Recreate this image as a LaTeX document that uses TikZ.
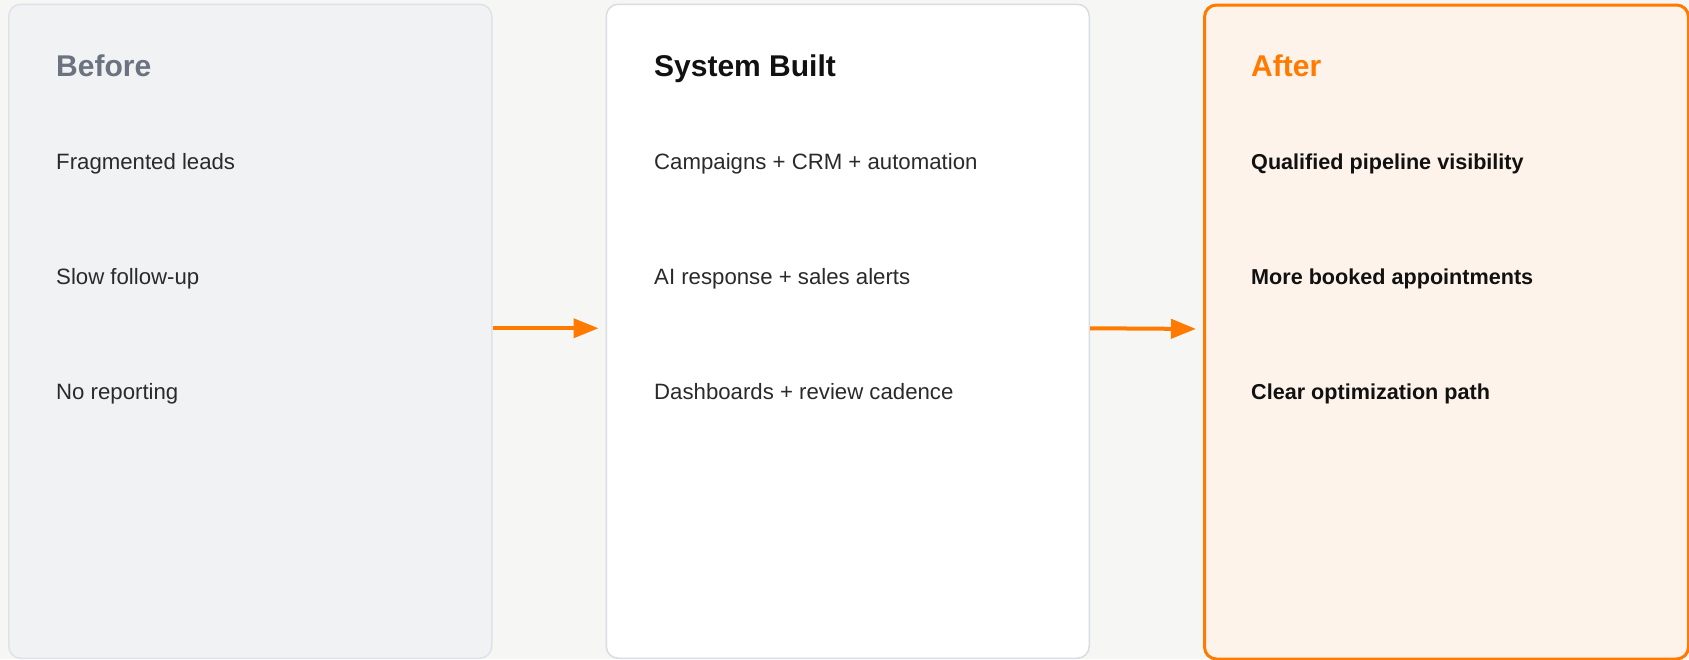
\documentclass[tikz,border=0pt]{standalone}
\usepackage{fontspec}
\setmainfont{Liberation Sans}
\usetikzlibrary{arrows.meta}
\definecolor{pagebg}{HTML}{F6F6F4}
\definecolor{beforefill}{HTML}{F1F2F4}
\definecolor{beforeline}{HTML}{DFE2E8}
\definecolor{builtline}{HTML}{D9DCE3}
\definecolor{afterfill}{HTML}{FDF3EA}
\definecolor{accent}{HTML}{FF7A00}
\definecolor{slate}{HTML}{6B7280}
\definecolor{itemgray}{HTML}{2A2A2A}
\definecolor{ink}{HTML}{111111}
\begin{document}
\begin{tikzpicture}[x=1pt, y=-1pt,
		panel/.style={rectangle, rounded corners=12pt, anchor=north west, minimum width=483pt, minimum height=654pt, inner sep=0pt},
		title/.style={anchor=base west, inner sep=0pt, font=\fontsize{30}{36}\selectfont\bfseries},
		item/.style={anchor=base west, inner sep=0pt, font=\fontsize{22.2}{26}\selectfont, text=itemgray},
		gain/.style={item, font=\fontsize{21.6}{26}\selectfont\bfseries, text=ink},
		flow/.style={draw=accent, line width=4pt, -{Triangle[length=25pt, width=19pt]}, shorten >=7pt}]
		\useasboundingbox [fill=pagebg] (0,0) rectangle (1689,659);
		
		% the three panels
		\node [panel, draw=beforeline, fill=beforefill, line width=1.5pt] (before) at (8,3.5) {};
		\node [panel, draw=builtline, fill=white, line width=1.5pt] (built) at (605.5,3.5) {};
		\node [panel, draw=accent, fill=afterfill, line width=3pt, minimum width=484pt] (after) at (1203,3.5) {};
		
		\node [title, text=slate] (beforetitle) at (56,76.7) {Before};
		\node [item] (lead) at (56,169) {Fragmented leads};
		\node [item] (slow) at (56,284) {Slow follow-up};
		\node [item] (noreport) at (56,399) {No reporting};
		
		\node [title, text=ink] (builttitle) at (654,76.7) {System Built};
		\node [item] (campaigns) at (654,169) {Campaigns + CRM + automation};
		\node [item] (alerts) at (654,284) {AI response + sales alerts};
		\node [item] (dashboards) at (654,399) {Dashboards + review cadence};
		
		\node [title, text=accent] (aftertitle) at (1251,76.7) {After};
		\node [gain] (pipeline) at (1251,169) {Qualified pipeline visibility};
		\node [gain] (booked) at (1251,284) {More booked appointments};
		\node [gain] (path) at (1251,399) {Clear optimization path};
		
		\draw [flow] ([yshift=3pt]before.east) -- ([yshift=3pt]built.west);
		\draw [flow] ([yshift=3pt]built.east) -- ([yshift=3pt]after.west);
	\end{tikzpicture}
\end{document}
